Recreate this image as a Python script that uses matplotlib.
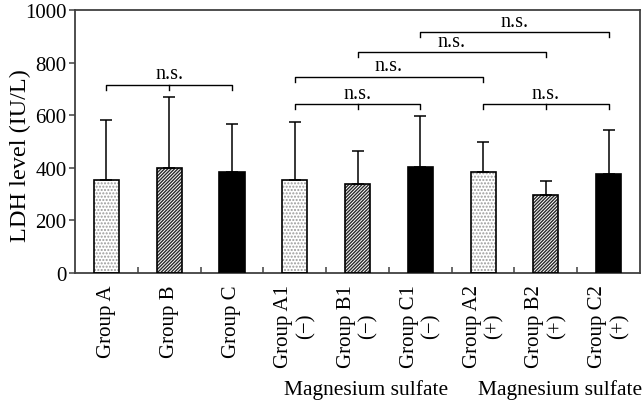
import matplotlib
matplotlib.use('Agg')
import matplotlib.pyplot as plt
import matplotlib.transforms as mtransforms
import numpy as np

plt.rcParams['font.family'] = ['Liberation Serif', 'DejaVu Serif']
plt.rcParams['hatch.linewidth'] = 1.0

# values
groups = ['Group A', 'Group B', 'Group C',
          'Group A1\n(\u2212)', 'Group B1\n(\u2212)', 'Group C1\n(\u2212)',
          'Group A2\n(+)', 'Group B2\n(+)', 'Group C2\n(+)']
ldh_mean = [354, 399, 384, 354, 338, 403, 384, 296, 376]
ldh_sd = [228, 270, 183, 220, 126, 194, 114, 54, 168]
kinds = ['A', 'B', 'C', 'A', 'B', 'C', 'A', 'B', 'C']

# comparisons: (left group, right group, bracket height, middle tick group)
comparisons = [(0, 2, 715, 1), (3, 6, 745, None), (3, 5, 642, 4),
               (4, 7, 840, None), (5, 8, 916, None), (6, 8, 642, 7)]
comp_label = 'n.s.'
sub_labels = ['Magnesium sulfate', 'Magnesium sulfate']

styles = {
    'A': dict(face='white', hatch='.....', hcol='#9a9a9a'),
    'B': dict(face='white', hatch='//////////', hcol='#2a2a2a'),
    'C': dict(face='black', hatch=None, hcol='black'),
}

fig = plt.figure(figsize=(6.42, 4.02), dpi=100)
ax = fig.add_axes([0.1168, 0.3184, 0.8802, 0.6542])

x = np.arange(len(groups))
w = 0.4
for xi, m, k in zip(x, ldh_mean, kinds):
    s = styles[k]
    ax.bar(xi, m, width=w, color=s['face'], edgecolor=s['hcol'],
           hatch=s['hatch'], linewidth=0, zorder=2)
    ax.bar(xi, m, width=w, fill=False, edgecolor='black', linewidth=1.2, zorder=3)

ax.errorbar(x, ldh_mean, yerr=[np.zeros(len(x)), ldh_sd], fmt='none',
            ecolor='black', elinewidth=1.1, capsize=4, capthick=1.1, zorder=4)

drop = 20
for a, b, h, mid in comparisons:
    ax.plot([a, a, b, b], [h - drop, h, h, h - drop], color='black', lw=1.0, zorder=5)
    if mid is not None:
        ax.plot([mid, mid], [h, h - drop], color='black', lw=1.0, zorder=5)
    ax.text((a + b) / 2, h + 6, comp_label, ha='center', va='bottom', fontsize=14.5)

ax.set_xlim(-0.5, len(groups) - 0.5)
ax.set_ylim(0, 1000)
ax.set_yticks([0, 200, 400, 600, 800, 1000])
ax.set_xticks(x)
ax.set_xticklabels(groups, rotation=90, multialignment='center', fontsize=15)
ax.set_xticks(np.arange(0.5, len(groups) - 1, 1), minor=True)
ax.tick_params(axis='x', which='major', length=0, pad=8)
ax.tick_params(axis='x', which='minor', direction='in', length=4, width=1.1, color='#404040')
ax.tick_params(axis='y', direction='out', length=4, width=1.1, color='#404040',
               labelsize=15, pad=2)
for sp in ax.spines.values():
    sp.set_color('#404040')
    sp.set_linewidth(1.3)

ax.set_ylabel('LDH level (IU/L)', fontsize=17.5)
ax.yaxis.set_label_coords(-0.078, 0.449)

trans = mtransforms.blended_transform_factory(ax.transData, ax.transAxes)
for xp, lab in zip([4.13, 7.22], sub_labels):
    ax.text(xp, -0.44, lab, transform=trans, ha='center', va='center', fontsize=15.5)

fig.savefig('out.png', dpi=100)
